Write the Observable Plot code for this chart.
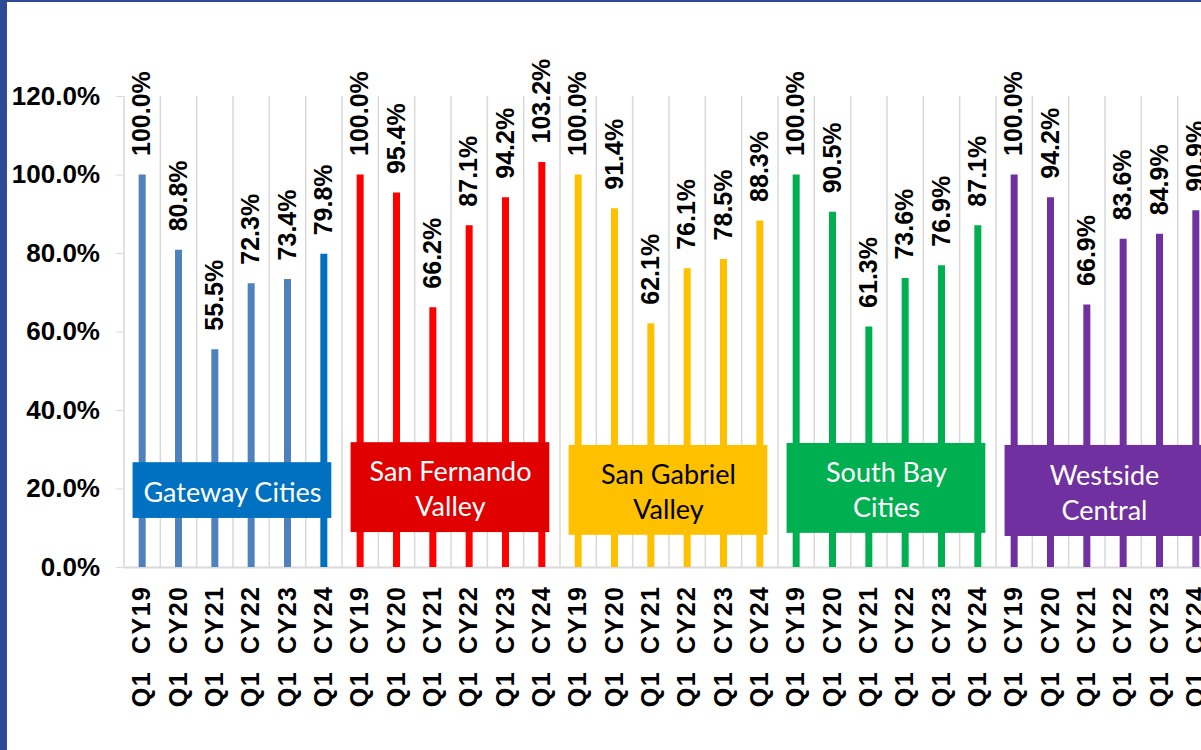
<!DOCTYPE html>
<html>
<head>
<meta charset="utf-8">
<script src="https://cdn.jsdelivr.net/npm/d3@7"></script>
<script src="https://cdn.jsdelivr.net/npm/@observablehq/plot@0.6"></script>
<style>
  html, body { margin: 0; padding: 0; background: #ffffff; overflow: hidden; width: 1201px; height: 750px; }
  #chart { position: absolute; left: 0; top: 0; width: 1230px; }
  #chart svg { max-width: none !important; width: 1230px; height: 750px; }
  #bl { position: absolute; left: 0; top: 0; width: 7px; height: 750px; background: #2f4a95; }
  #bt { position: absolute; left: 0; top: 0; width: 1201px; height: 2px; background: #2f4a95; }
  g[aria-label="x-axis tick label"] text { letter-spacing: 1.5px; }
</style>
</head>
<body>
<div id="chart"></div>
<div id="bl"></div>
<div id="bt"></div>
<script>
const regions = ["Gateway Cities", "San Fernando Valley", "San Gabriel Valley", "South Bay Cities", "Westside Central"];
const regionLabels = ["Gateway Cities", "San Fernando\nValley", "San Gabriel\nValley", "South Bay\nCities", "Westside\nCentral"];
const quarters = ["Q1  CY19", "Q1  CY20", "Q1  CY21", "Q1  CY22", "Q1  CY23", "Q1  CY24"];
const gatewayValues = [100.0, 80.8, 55.5, 72.3, 73.4, 79.8];
const sanFernandoValues = [100.0, 95.4, 66.2, 87.1, 94.2, 103.2];
const sanGabrielValues = [100.0, 91.4, 62.1, 76.1, 78.5, 88.3];
const southBayValues = [100.0, 90.5, 61.3, 73.6, 76.9, 87.1];
const westsideValues = [100.0, 94.2, 66.9, 83.6, 84.9, 90.9];
const barColors = [
  ["#4f81bd", "#4f81bd", "#4f81bd", "#4f81bd", "#4f81bd", "#0070c0"],
  ["#ff0000", "#ff0000", "#ff0000", "#ff0000", "#ff0000", "#ff0000"],
  ["#ffc000", "#ffc000", "#ffc000", "#ffc000", "#ffc000", "#ffc000"],
  ["#00b050", "#00b050", "#00b050", "#00b050", "#00b050", "#00b050"],
  ["#7030a0", "#7030a0", "#7030a0", "#7030a0", "#7030a0", "#7030a0"]
];
const boxFill = ["#0070c0", "#e00000", "#ffc000", "#00b050", "#7030a0"];
const boxText = ["#ffffff", "#ffffff", "#000000", "#ffffff", "#ffffff"];
const boxTop = [26.7, 31.8, 31.1, 31.6, 31.1];
const boxBottom = [12.5, 8.9, 8.2, 8.7, 7.9];
const yTicks = [0, 20, 40, 60, 80, 100, 120];

const seriesValues = [gatewayValues, sanFernandoValues, sanGabrielValues, southBayValues, westsideValues];
const rows = [];
seriesValues.forEach((vals, g) => vals.forEach((v, q) => {
  rows.push({region: regions[g], quarter: quarters[q], value: v, color: barColors[g][q], pos: g * quarters.length + q + 0.5});
}));
const n = rows.length;
const boxes = regions.map((r, g) => ({
  label: regionLabels[g],
  x1: g * 6 + 0.25, x2: g * 6 + 5.72, xc: g * 6 + 2.985,
  y1: boxBottom[g], y2: boxTop[g], yc: (boxTop[g] + boxBottom[g]) / 2,
  fill: boxFill[g], text: boxText[g]
}));

const chart = Plot.plot({
  width: 1230,
  height: 750,
  marginLeft: 123.5,
  marginRight: 16.5,
  marginTop: 96,
  marginBottom: 183,
  style: {fontFamily: "'Liberation Sans', Arial, sans-serif", background: "#ffffff", color: "#000000", maxWidth: "none"},
  x: {type: "linear", domain: [0, n]},
  y: {domain: [0, 120]},
  marks: [
    Plot.ruleX(d3.range(n + 1), {y1: 0, y2: 120, stroke: "#d9d9d9", strokeWidth: 1.5}),
    Plot.ruleY([0], {stroke: "#d9d9d9", strokeWidth: 2}),
    Plot.axisY({ticks: yTicks, tickSize: 8, tickPadding: 16, stroke: "#d9d9d9", fill: "#000000",
      tickFormat: d => d.toFixed(1) + "%", fontSize: 26, fontWeight: "bold"}),
    Plot.axisX({ticks: rows.map(d => d.pos), tickSize: 0, tickPadding: 18, tickRotate: -90,
      tickFormat: (d) => rows[Math.floor(d)].quarter, fontSize: 25, fontWeight: "bold", fill: "#000000"}),
    Plot.ruleX(rows, {x: "pos", y1: 0, y2: "value", stroke: "color", strokeWidth: 7}),
    Plot.text(rows, {x: "pos", y: "value", text: d => d.value.toFixed(1) + "%", rotate: -90,
      textAnchor: "start", dy: -19, fontSize: 25, fontWeight: "bold", fill: "#000000"}),
    Plot.rect(boxes, {x1: "x1", x2: "x2", y1: "y1", y2: "y2", fill: "fill"}),
    Plot.text(boxes, {x: "xc", y: "yc", text: "label", fill: "text", fontSize: 27, lineHeight: 1.3,
      fontFamily: "Lato, 'Open Sans', sans-serif"})
  ]
});
document.getElementById("chart").appendChild(chart);
</script>
</body>
</html>
